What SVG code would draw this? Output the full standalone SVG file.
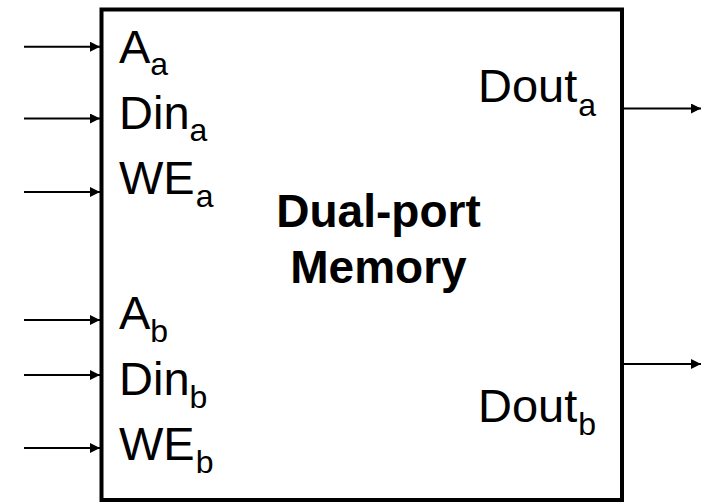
<svg xmlns="http://www.w3.org/2000/svg" width="708" height="502" viewBox="0 0 708 502">
<style>
.lbl{font-family:"Liberation Sans",Arial,sans-serif;font-size:47px;fill:#000}
.sub{font-size:32px}
.title{font-family:"Liberation Sans",Arial,sans-serif;font-size:46px;font-weight:bold;fill:#000;text-anchor:middle}
.wire{stroke:#000;stroke-width:2;fill:none}
</style>
<defs>
<marker id="ah" markerWidth="10" markerHeight="10" refX="10" refY="5" orient="auto" markerUnits="userSpaceOnUse">
<path d="M0,0 L10,5 L0,10 Z" fill="#000"/>
</marker>
</defs>
<rect x="0" y="0" width="708" height="502" fill="#fff"/>
<g id="memory">
<rect x="101.5" y="9.5" width="520.5" height="490.5" fill="#fff" stroke="#000" stroke-width="4"/>
<text class="title" x="378.5" y="227">Dual-port</text>
<text class="title" x="378.5" y="283">Memory</text>
</g>
<g id="ports">
<text class="lbl" x="119" y="63">A<tspan class="sub" dy="12">a</tspan></text>
<text class="lbl" x="119" y="128.5">Din<tspan class="sub" dy="12">a</tspan></text>
<text class="lbl" x="119" y="193.5">WE<tspan class="sub" dx="1" dy="13">a</tspan></text>
<text class="lbl" x="119" y="328.5">A<tspan class="sub" dy="13">b</tspan></text>
<text class="lbl" x="119" y="394.5">Din<tspan class="sub" dy="13">b</tspan></text>
<text class="lbl" x="119" y="460">WE<tspan class="sub" dx="1" dy="13">b</tspan></text>
<text class="lbl" x="478" y="102">Dout<tspan class="sub" dx="1" dy="14">a</tspan></text>
<text class="lbl" x="478" y="422">Dout<tspan class="sub" dx="1" dy="13">b</tspan></text>
</g>
<g id="connectors">
<line class="wire" x1="24" y1="46.7" x2="100" y2="46.7" marker-end="url(#ah)"/>
<line class="wire" x1="24" y1="118.5" x2="100" y2="118.5" marker-end="url(#ah)"/>
<line class="wire" x1="24" y1="192" x2="100" y2="192" marker-end="url(#ah)"/>
<line class="wire" x1="24" y1="320" x2="100" y2="320" marker-end="url(#ah)"/>
<line class="wire" x1="24" y1="375" x2="100" y2="375" marker-end="url(#ah)"/>
<line class="wire" x1="24" y1="448" x2="100" y2="448" marker-end="url(#ah)"/>
<line class="wire" x1="624" y1="108.5" x2="701" y2="108.5" marker-end="url(#ah)"/>
<line class="wire" x1="624" y1="364" x2="701" y2="364" marker-end="url(#ah)"/>
</g>
</svg>
